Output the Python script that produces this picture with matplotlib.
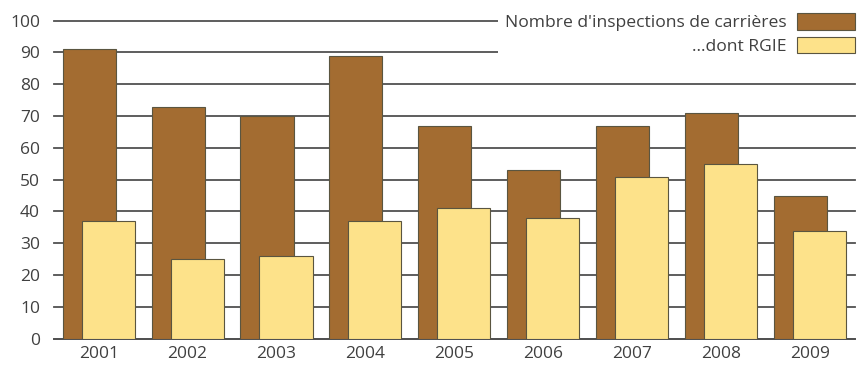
import matplotlib
matplotlib.use("Agg")
import matplotlib.pyplot as plt
import numpy as np

years = ["2001", "2002", "2003", "2004", "2005", "2006", "2007", "2008", "2009"]
inspections = [91, 73, 70, 89, 67, 53, 67, 71, 45]
rgie = [37, 25, 26, 37, 41, 38, 51, 55, 34]
yticks = [0, 10, 20, 30, 40, 50, 60, 70, 80, 90, 100]
label_total = "Nombre d'inspections de carrières"
label_rgie = "...dont RGIE"

plt.rcParams['font.family'] = ['Open Sans', 'DejaVu Sans']

W, H = 863, 367
fig = plt.figure(figsize=(W / 100, H / 100), dpi=100)
ax = fig.add_axes([54 / W, (H - 338.7) / H, (855 - 54) / W, (338.7 - 20.7) / H])

x = np.arange(len(years))
bw = 0.597
off = 0.107
brown = "#A36C31"
yellow = "#FDE28A"
edge = "#5a5540"

ax.bar(x - off, inspections, width=bw, color=brown, edgecolor=edge, linewidth=0.8, zorder=3, label=label_total)
ax.bar(x + off, rgie, width=bw, color=yellow, edgecolor=edge, linewidth=0.8, zorder=4, label=label_rgie)

ax.set_ylim(0, 100)
ax.set_xlim(-0.503, 8.507)
ax.set_yticks(yticks)
ax.set_xticks(x)
ax.set_xticklabels(years)
ax.yaxis.grid(True, color="#505050", linewidth=1.3, zorder=0)
ax.set_axisbelow(True)
for gl in ax.get_ygridlines():
    gl.set_clip_on(False)
for s in ["top", "right", "left"]:
    ax.spines[s].set_visible(False)
ax.spines["bottom"].set_color("#505050")
ax.spines["bottom"].set_linewidth(1.3)
ax.tick_params(axis="y", length=0, pad=10, labelsize=12.5, labelcolor="#404040")
ax.tick_params(axis="x", length=0, pad=5, labelsize=12.5, labelcolor="#404040")

lfs = 12.6
fs = lfs * 100 / 72
bp = 0.4
leg = ax.legend(loc="upper right", bbox_to_anchor=((855 + bp * fs) / W, 1 - (13 - bp * fs) / H),
                bbox_transform=fig.transFigure, markerfirst=False, frameon=True,
                facecolor="white", edgecolor="none", framealpha=1, fancybox=False,
                borderpad=bp, borderaxespad=0, handlelength=3.3, handleheight=1.1,
                handletextpad=0.6, labelspacing=0.3, fontsize=lfs)
for t in leg.get_texts():
    t.set_color("#404040")

fig.savefig("out.png", dpi=100, facecolor="white")
